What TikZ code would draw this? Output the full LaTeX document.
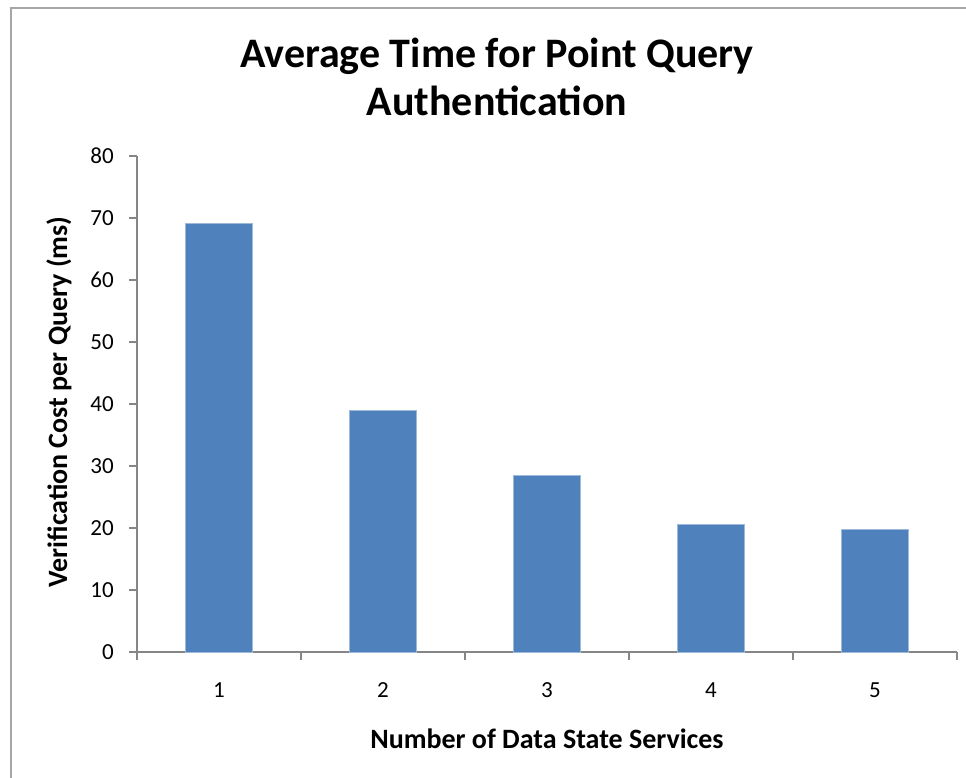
\documentclass[tikz,border=0pt]{standalone}
\usepackage{fontspec}
\setmainfont{Carlito}
\usetikzlibrary{positioning}
\definecolor{barblue}{HTML}{4F81BD}
\definecolor{axisgray}{HTML}{868686}
\definecolor{framegray}{HTML}{A6A6A6}

\begin{document}
\begin{tikzpicture}[
  x=1pt,y=-1pt,
  bar/.style={fill=barblue,draw=barblue!55!white,line width=0.8pt},
  axis/.style={axisgray,line width=1.5pt},
  ticklabel/.style={font=\fontsize{23}{26}\selectfont,inner sep=0pt},
  axistitle/.style={font=\bfseries\fontsize{28}{32}\selectfont,inner sep=0pt}
]
  \useasboundingbox (0,0) rectangle (966,778);
  % chart frame (only left and top edges are in view)
  \draw[framegray,line width=2pt] (11,778) -- (11,8) -- (966,8);

  \node[font=\bfseries\fontsize{42}{48}\selectfont,align=center,inner sep=0pt] (title) at (497,77)
    {Average Time for Point Query\\Authentication};

  % value axis
  \draw[axis] (137,156) -- (137,652) -- (957,652);
  \foreach \v in {0,10,...,80} {
    \draw[axis] (129,{652-6.2*\v}) -- (137,{652-6.2*\v});
    \node[ticklabel,anchor=east] (ylab\v) at (114,{652-6.2*\v}) {\v};
  }
  % category axis
  \foreach \i in {0,...,5}
    \draw[axis] ({137+164*\i},652) -- ({137+164*\i},660);

  % bars
  \foreach \v [count=\i] in {69.1,38.9,28.5,20.6,19.8} {
    \draw[bar] ({137+164*\i-82-33.5},652) rectangle ({137+164*\i-82+33.5},{652-6.2*\v});
    \node[ticklabel] (xlab\i) at ({137+164*\i-82},690) {\i};
  }

  \node[axistitle] (xtitle) at (547,739) {Number of Data State Services};
  \node[axistitle,rotate=90] (ytitle) at (59,402) {Verification Cost per Query (ms)};
\end{tikzpicture}
\end{document}
